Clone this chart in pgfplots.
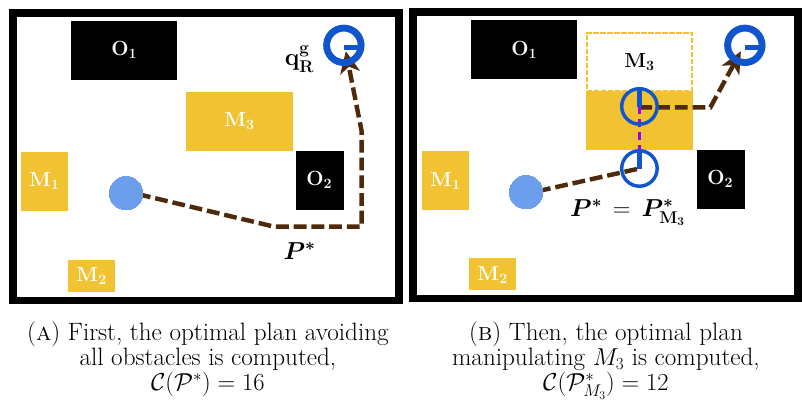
\documentclass[border=0pt]{standalone}
\usepackage{pgfplots}
\pgfplotsset{compat=1.18}
\usepackage{amsmath}
\usepackage{bm}
\usetikzlibrary{arrows.meta}
\definecolor{gold}{HTML}{F1C232}
\definecolor{lblue}{HTML}{6D9EEB}
\definecolor{dblue}{HTML}{1155CC}
\definecolor{brown2}{HTML}{4E2A0A}
\definecolor{purp}{HTML}{9900FF}
\begin{document}
\begin{tikzpicture}
\begin{axis}[x=1pt, y=1pt, y dir=reverse, xmin=0, xmax=802, ymin=0, ymax=410,
  hide axis, clip=false, scale only axis]
\addplot[draw=none, forget plot] coordinates {(0,0) (802,410)};
% ---------- left panel ----------
\addplot[black, line width=8pt] coordinates {(13,13) (405,13) (405,305) (13,305) (13,13) (405,13)};
\addplot[fill=black, draw=none] coordinates {(72,21) (180,21) (180,81) (72,81)};
\addplot[fill=black, draw=none] coordinates {(300,153) (349,153) (349,213) (300,213)};
\addplot[fill=gold, draw=none] coordinates {(189,93) (297,93) (297,153) (189,153)};
\addplot[fill=gold, draw=none] coordinates {(21,154) (69,154) (69,214) (21,214)};
\addplot[fill=gold, draw=none] coordinates {(69,264) (117,264) (117,296) (69,296)};
\addplot[lblue, only marks, mark=*, mark size=17pt, mark options={fill=lblue, draw=lblue, line width=0pt}] coordinates {(128,196)};
\addplot[brown2, line width=4.5pt, dash pattern=on 13pt off 5pt, -{Stealth[length=22pt, width=20pt, inset=6pt]}]
  coordinates {(140,197) (278,230) (367,230) (367,133) (351,52)};
\addplot[dblue, line width=6pt] coordinates {(127,196) (144,196)};
\addplot[dblue, only marks, mark=o, mark size=17.5pt, mark options={draw=dblue, line width=7pt}] coordinates {(349,46)};
\addplot[dblue, line width=5pt] coordinates {(349,48) (364,48)};
\node[text=white, font=\fontsize{22}{22}\selectfont] at (axis cs:126,51) {$\mathbf{O}_{\mathbf{1}}$};
\node[text=white, font=\fontsize{22}{22}\selectfont] at (axis cs:324,183) {$\mathbf{O}_{\mathbf{2}}$};
\node[text=white, font=\fontsize{22}{22}\selectfont] at (axis cs:243,123) {$\mathbf{M}_{\mathbf{3}}$};
\node[text=white, font=\fontsize{22}{22}\selectfont] at (axis cs:45,184) {$\mathbf{M}_{\mathbf{1}}$};
\node[text=white, font=\fontsize{22}{22}\selectfont] at (axis cs:93,280) {$\mathbf{M}_{\mathbf{2}}$};
\node[font=\fontsize{25}{25}\selectfont] at (axis cs:304,60) {$\mathbf{q}^{\mathbf{g}}_{\mathbf{R}}$};
\node[font=\fontsize{23}{23}\selectfont] at (axis cs:304,255) {$\bm{P^*}$};
% ---------- right panel ----------
\addplot[black, line width=8pt] coordinates {(419,12) (810,12) (810,303) (419,303) (419,12) (810,12)};
\addplot[fill=black, draw=none] coordinates {(478,20) (586,20) (586,80) (478,80)};
\addplot[fill=black, draw=none] coordinates {(707,152) (756,152) (756,212) (707,212)};
\addplot[fill=gold, draw=none] coordinates {(595,92) (703,92) (703,152) (595,152)};
\addplot[gold, line width=2pt, dash pattern=on 5pt off 2pt] coordinates {(596,33) (702,33) (702,92) (596,92) (596,33) (702,33)};
\addplot[fill=gold, draw=none] coordinates {(428,153) (476,153) (476,213) (428,213)};
\addplot[fill=gold, draw=none] coordinates {(476,262) (524,262) (524,294) (476,294)};
\addplot[lblue, only marks, mark=*, mark size=17pt, mark options={fill=lblue, draw=lblue, line width=0pt}] coordinates {(534,195)};
\addplot[brown2, line width=4.5pt, dash pattern=on 13pt off 5pt] coordinates {(546,194) (649,171)};
\addplot[brown2, line width=4.5pt, dash pattern=on 13pt off 5pt, -{Stealth[length=22pt, width=20pt, inset=6pt]}]
  coordinates {(649,109) (721,109) (752,52)};
\addplot[purp, line width=3pt, dash pattern=on 8pt off 5pt] coordinates {(649,108) (649,171)};
\addplot[dblue, line width=6pt] coordinates {(534,195) (550,195)};
\addplot[dblue, only marks, mark=o, mark size=18pt, mark options={draw=dblue, line width=3.5pt}] coordinates {(649,171) (649,108)};
\addplot[dblue, line width=5.5pt] coordinates {(649,152) (649,172)};
\addplot[dblue, line width=5.5pt] coordinates {(649,90) (649,109)};
\addplot[dblue, only marks, mark=o, mark size=17.5pt, mark options={draw=dblue, line width=7pt}] coordinates {(756,46)};
\addplot[dblue, line width=5pt] coordinates {(756,48) (771,48)};
\node[text=white, font=\fontsize{22}{22}\selectfont] at (axis cs:532,51) {$\mathbf{O}_{\mathbf{1}}$};
\node[text=white, font=\fontsize{22}{22}\selectfont] at (axis cs:731,182) {$\mathbf{O}_{\mathbf{2}}$};
\node[text=black, font=\fontsize{22}{22}\selectfont] at (axis cs:649,63) {$\mathbf{M}_{\mathbf{3}}$};
\node[text=white, font=\fontsize{22}{22}\selectfont] at (axis cs:452,184) {$\mathbf{M}_{\mathbf{1}}$};
\node[text=white, font=\fontsize{22}{22}\selectfont] at (axis cs:500,279) {$\mathbf{M}_{\mathbf{2}}$};
\node[font=\fontsize{23}{23}\selectfont] at (axis cs:637,216) {$\bm{P^*}\,=\,\bm{P^*_{\mathrm{M}_3}}$};
% ---------- captions ----------
\node[anchor=base, align=center, font=\fontsize{25.5}{25}\selectfont] at (axis cs:211,396)
  {(\textsc{a}) First, the optimal plan avoiding\\ all obstacles is computed,\\ $\mathcal{C}(\mathcal{P}^*) = 16$};
\node[anchor=base, align=center, font=\fontsize{25.5}{25}\selectfont] at (axis cs:615,396)
  {(\textsc{b}) Then, the optimal plan\\ manipulating $M_3$ is computed,\\ $\mathcal{C}(\mathcal{P}^*_{M_3}) = 12$};
\end{axis}
\end{tikzpicture}
\end{document}
